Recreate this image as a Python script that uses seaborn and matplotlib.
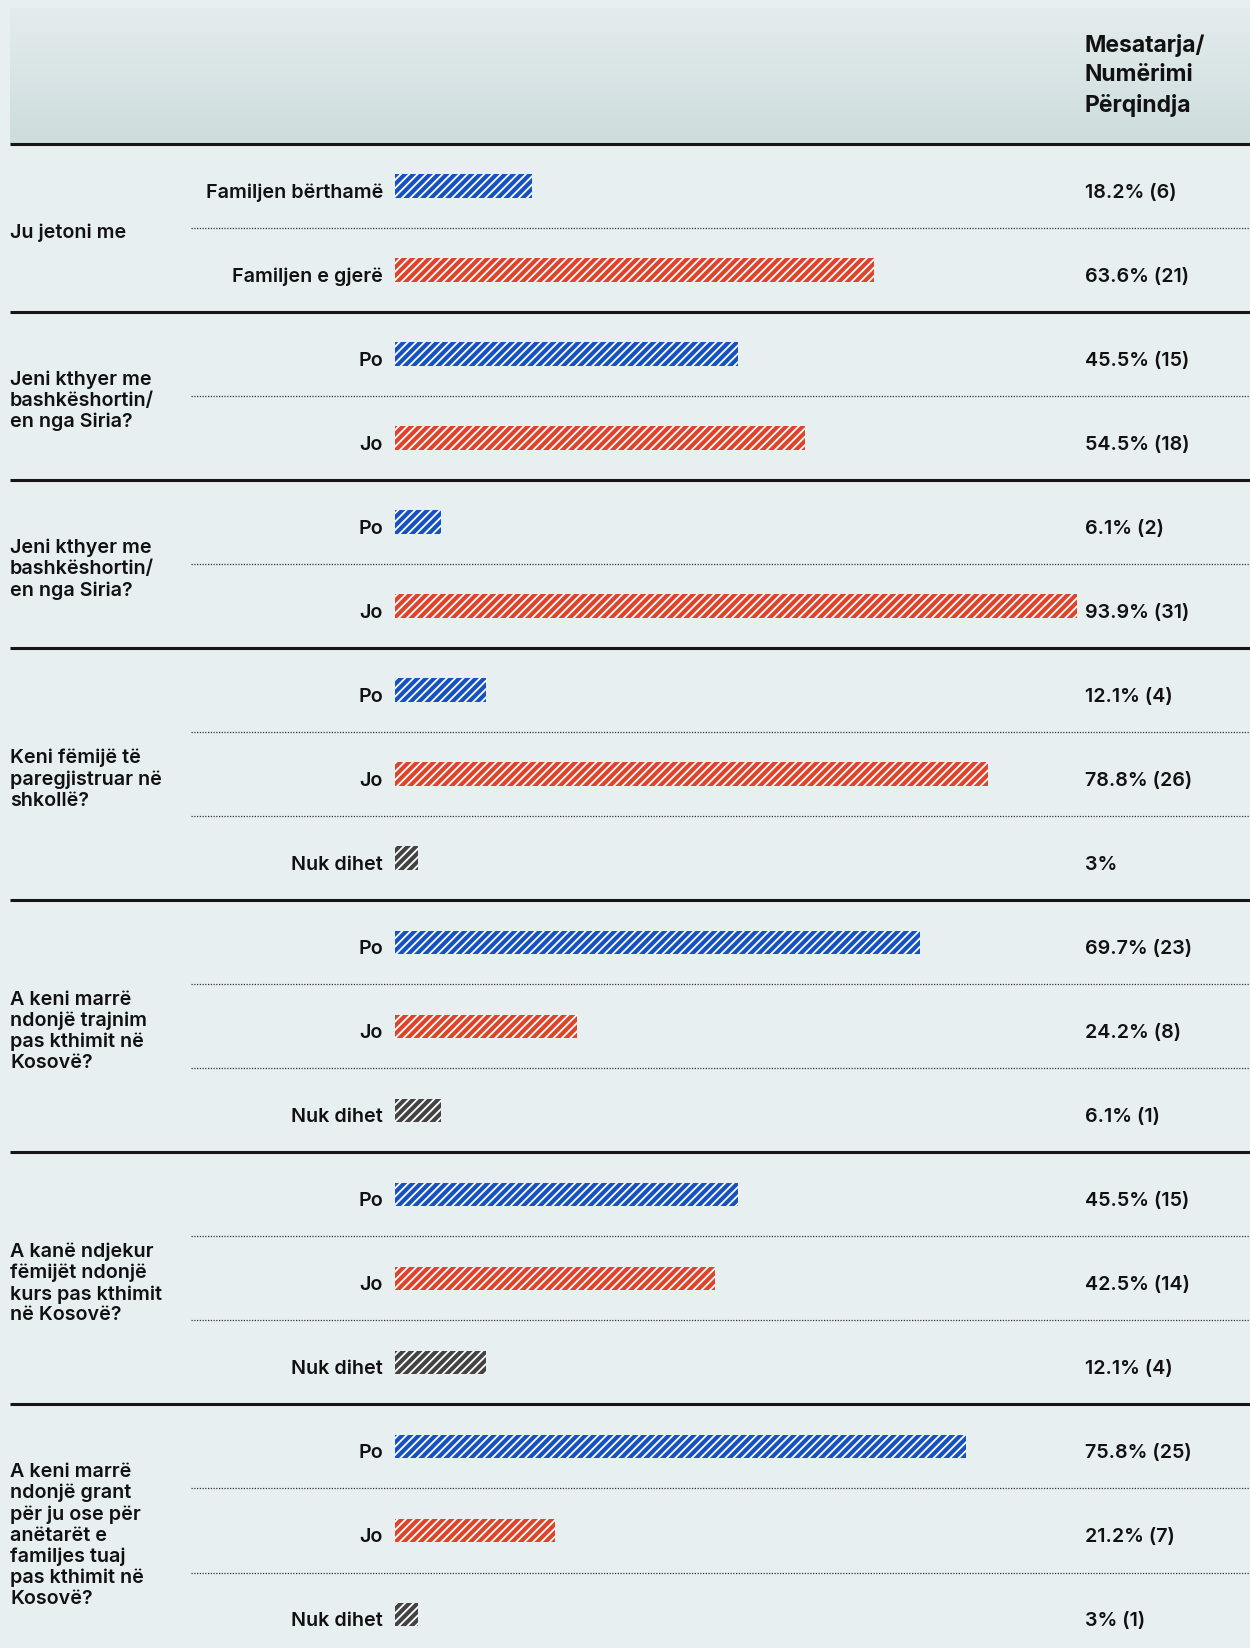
import numpy as np
import pandas as pd
import matplotlib
matplotlib.use("Agg")
import matplotlib.pyplot as plt
from matplotlib.colors import LinearSegmentedColormap
import seaborn as sns

# ---------------- data ----------------
questions = [
    "Ju jetoni me",
    "Jeni kthyer me\nbashkëshortin/\nen nga Siria?",
    "Jeni kthyer me\nbashkëshortin/\nen nga Siria?",
    "Keni fëmijë të\nparegjistruar në\nshkollë?",
    "A keni marrë\nndonjë trajnim\npas kthimit në\nKosovë?",
    "A kanë ndjekur\nfëmijët ndonjë\nkurs pas kthimit\nnë Kosovë?",
    "A keni marrë\nndonjë grant\npër ju ose për\nanëtarët e\nfamiljes tuaj\npas kthimit në\nKosovë?",
]
answers = [
    ["Familjen bërthamë", "Familjen e gjerë"],
    ["Po", "Jo"],
    ["Po", "Jo"],
    ["Po", "Jo", "Nuk dihet"],
    ["Po", "Jo", "Nuk dihet"],
    ["Po", "Jo", "Nuk dihet"],
    ["Po", "Jo", "Nuk dihet"],
]
percents = [
    [18.2, 63.6],
    [45.5, 54.5],
    [6.1, 93.9],
    [12.1, 78.8, 3.0],
    [69.7, 24.2, 6.1],
    [45.5, 42.5, 12.1],
    [75.8, 21.2, 3.0],
]
value_labels = [
    ["18.2% (6)", "63.6% (21)"],
    ["45.5% (15)", "54.5% (18)"],
    ["6.1% (2)", "93.9% (31)"],
    ["12.1% (4)", "78.8% (26)", "3%"],
    ["69.7% (23)", "24.2% (8)", "6.1% (1)"],
    ["45.5% (15)", "42.5% (14)", "12.1% (4)"],
    ["75.8% (25)", "21.2% (7)", "3% (1)"],
]
header_text = "Mesatarja/\nNumërimi\nPërqindja"
kinds = ["pos", "neg", "unk"]

palette = {"pos": "#1651c2", "neg": "#dd4429", "unk": "#434343"}
BG = "#e8eff1"

# build table
rows = []
idx = 0
group_starts = []
for g, (q, ans, pc, vl) in enumerate(zip(questions, answers, percents, value_labels)):
    group_starts.append(idx)
    for k, (a, p, v) in enumerate(zip(ans, pc, vl)):
        rows.append(dict(row=idx, group=g, answer=a, pct=p, label=v, kind=kinds[k]))
        idx += 1
df = pd.DataFrame(rows)
n_rows = len(df)

# ---------------- layout ----------------
W, H = 1250, 1648
DPI = 100
top_px = 144.0
pitch = 84.03
y_top = -0.5 - top_px / pitch
y_bot = -0.5 + (H - top_px) / pitch

sns.set_theme(style="white")
plt.rcParams["font.family"] = ["Inter", "DejaVu Sans"]
plt.rcParams["hatch.linewidth"] = 1.3

fig = plt.figure(figsize=(W / DPI, H / DPI), dpi=DPI)
fig.patch.set_facecolor(BG)

bg = fig.add_axes([0, 0, 1, 1])
bg.set_xlim(0, W)
bg.set_ylim(y_bot, y_top)
bg.axis("off")
bg.set_facecolor(BG)

# header gradient (light at top, darker at bottom)
cmap = LinearSegmentedColormap.from_list("hdr", ["#e4ecee", "#cddcdc"])
grad = np.linspace(0, 1, 256).reshape(-1, 1)
bg.imshow(grad, cmap=cmap, aspect="auto",
          extent=(10, W, -0.5, y_top + 8 / pitch), origin="upper", zorder=0)
bg.set_xlim(0, W)
bg.set_ylim(y_bot, y_top)

bg.text(1085, y_top + 34 / pitch, header_text, ha="left", va="top",
        fontsize=16.5, fontweight="bold", color="#111111", linespacing=1.43)

# bar axes
x0, x1 = 395, 1077
px_per_pct = 7.53
ax = fig.add_axes([x0 / W, 0, (x1 - x0) / W, 1], sharey=bg)
ax.patch.set_alpha(0)
sns.barplot(data=df, x="pct", y="row", hue="kind", palette=palette,
            orient="h", native_scale=True, dodge=False, width=0.28,
            legend=False, ax=ax, linewidth=0, edgecolor="white", saturation=1)
for p in ax.patches:
    p.set_hatch("////")
    p.set_edgecolor("white")
    p.set_linewidth(0)
ax.set_xlim(0, (x1 - x0) / px_per_pct)
ax.set_ylim(y_bot, y_top)
ax.axis("off")

# lines
boundaries = group_starts
for b in boundaries:
    bg.plot([10, W], [b - 0.5, b - 0.5], color="#151515", lw=2.2, solid_capstyle="butt", zorder=3)
for r in range(n_rows):
    if r not in boundaries:
        bg.plot([191, W], [r - 0.5, r - 0.5], color="#333333", lw=0.9,
                linestyle=(0, (1, 1.2)), zorder=3)

# labels
for _, rw in df.iterrows():
    bg.text(383, rw["row"] + 0.08, rw["answer"], ha="right", va="center",
            fontsize=14.2, fontweight="semibold", color="#111111")
    bg.text(1085, rw["row"] + 0.08, rw["label"], ha="left", va="center",
            fontsize=14.2, fontweight="semibold", color="#111111")

for g, q in enumerate(questions):
    members = df[df["group"] == g]["row"]
    yc = (members.min() + members.max()) / 2
    bg.text(10, yc + 0.06, q, ha="left", va="center", fontsize=14.2,
            fontweight="semibold", color="#111111", linespacing=1.2)

fig.savefig("out.png", dpi=DPI, facecolor=BG)
